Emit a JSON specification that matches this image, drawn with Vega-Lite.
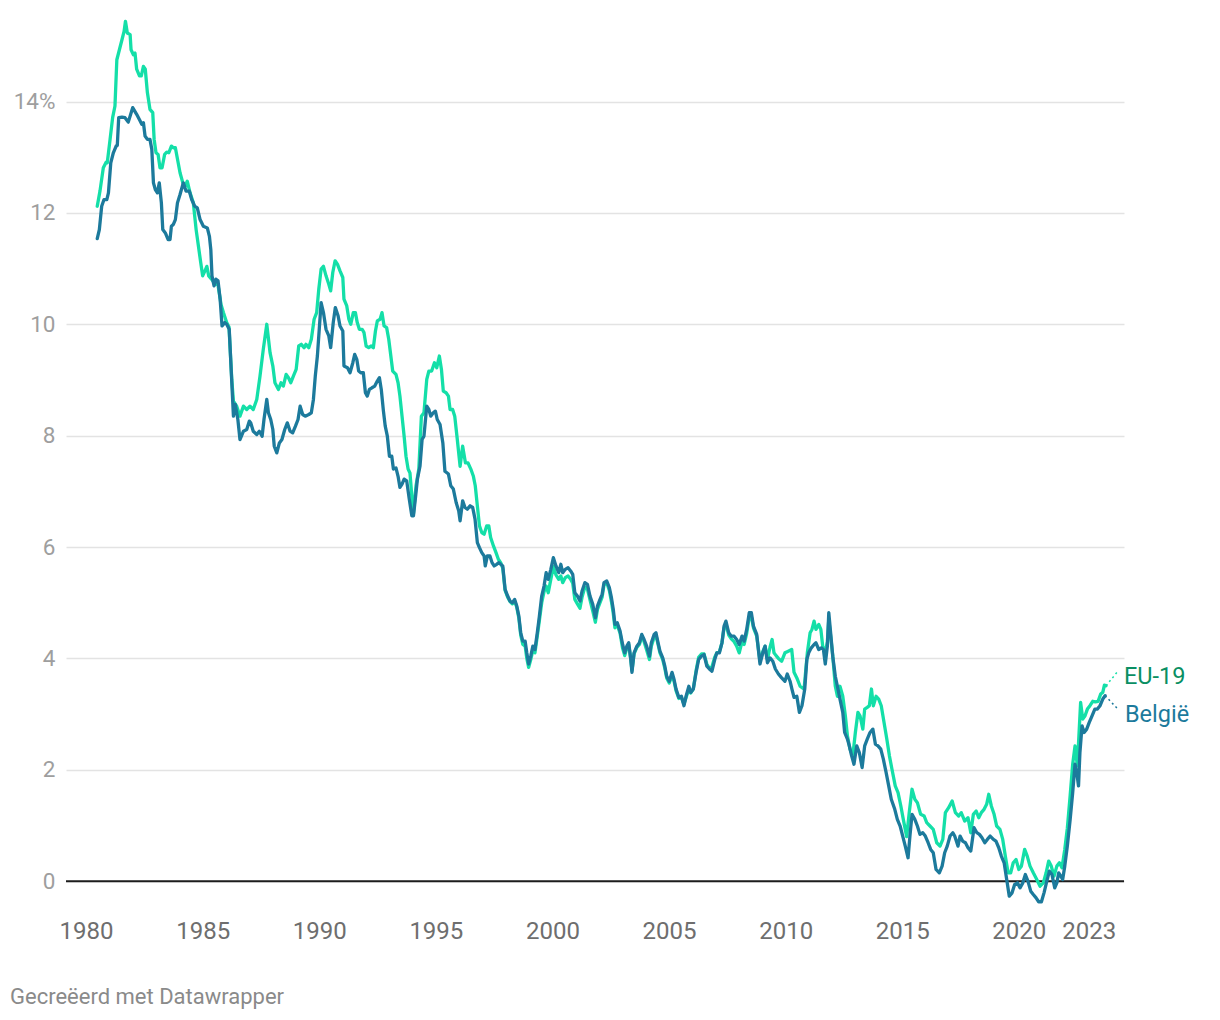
{
"$schema":"https://vega.github.io/schema/vega-lite/v6.json",
"width":1058,"height":891,
"autosize":{"type":"none"},
"padding":{"left":66,"top":18,"right":96,"bottom":111},
"background":"#ffffff",
"config":{"view":{"stroke":null},"font":"Roboto"},
"title":{"text":"Gecreëerd met Datawrapper","orient":"bottom","anchor":"start","frame":"group","dx":-56,"offset":44,"fontSize":22,"fontWeight":"normal","color":"#8a8a8a","font":"Roboto"},
"datasets":{
"eu":[{"t":1980.48,"v":12.12},{"t":1980.6,"v":12.4},{"t":1980.74,"v":12.81},{"t":1980.86,"v":12.91},{"t":1980.91,"v":12.9},{"t":1981.03,"v":13.32},{"t":1981.14,"v":13.71},{"t":1981.24,"v":13.92},{"t":1981.32,"v":14.75},{"t":1981.43,"v":14.93},{"t":1981.54,"v":15.11},{"t":1981.63,"v":15.26},{"t":1981.69,"v":15.44},{"t":1981.77,"v":15.23},{"t":1981.89,"v":15.2},{"t":1981.93,"v":14.93},{"t":1982.03,"v":14.84},{"t":1982.1,"v":14.87},{"t":1982.17,"v":14.58},{"t":1982.29,"v":14.46},{"t":1982.37,"v":14.46},{"t":1982.46,"v":14.63},{"t":1982.54,"v":14.58},{"t":1982.63,"v":14.16},{"t":1982.74,"v":13.86},{"t":1982.86,"v":13.8},{"t":1982.92,"v":13.32},{"t":1983.0,"v":13.08},{"t":1983.09,"v":13.05},{"t":1983.17,"v":12.81},{"t":1983.26,"v":12.81},{"t":1983.37,"v":13.05},{"t":1983.46,"v":13.09},{"t":1983.55,"v":13.08},{"t":1983.66,"v":13.2},{"t":1983.74,"v":13.17},{"t":1983.83,"v":13.17},{"t":1983.95,"v":12.9},{"t":1984.03,"v":12.72},{"t":1984.15,"v":12.54},{"t":1984.25,"v":12.48},{"t":1984.34,"v":12.57},{"t":1984.46,"v":12.36},{"t":1984.6,"v":12.18},{"t":1984.72,"v":11.7},{"t":1984.82,"v":11.4},{"t":1984.92,"v":11.1},{"t":1985.0,"v":10.87},{"t":1985.09,"v":10.95},{"t":1985.18,"v":11.04},{"t":1985.26,"v":10.87},{"t":1985.4,"v":10.8},{"t":1985.49,"v":10.75},{"t":1985.66,"v":10.7},{"t":1985.79,"v":10.35},{"t":1985.89,"v":10.21},{"t":1986.03,"v":10.03},{"t":1986.13,"v":9.95},{"t":1986.25,"v":9.0},{"t":1986.32,"v":8.62},{"t":1986.46,"v":8.53},{"t":1986.6,"v":8.35},{"t":1986.75,"v":8.53},{"t":1986.89,"v":8.47},{"t":1987.03,"v":8.53},{"t":1987.17,"v":8.47},{"t":1987.32,"v":8.65},{"t":1987.46,"v":9.07},{"t":1987.6,"v":9.55},{"t":1987.75,"v":10.0},{"t":1987.89,"v":9.49},{"t":1988.01,"v":9.25},{"t":1988.1,"v":8.95},{"t":1988.25,"v":8.83},{"t":1988.36,"v":8.95},{"t":1988.46,"v":8.89},{"t":1988.58,"v":9.1},{"t":1988.68,"v":9.04},{"t":1988.78,"v":8.95},{"t":1988.89,"v":9.07},{"t":1989.01,"v":9.19},{"t":1989.12,"v":9.61},{"t":1989.23,"v":9.64},{"t":1989.35,"v":9.58},{"t":1989.43,"v":9.64},{"t":1989.55,"v":9.58},{"t":1989.66,"v":9.73},{"t":1989.78,"v":10.09},{"t":1989.89,"v":10.21},{"t":1989.98,"v":10.63},{"t":1990.08,"v":10.99},{"t":1990.18,"v":11.04},{"t":1990.29,"v":10.87},{"t":1990.41,"v":10.72},{"t":1990.49,"v":10.6},{"t":1990.58,"v":10.93},{"t":1990.68,"v":11.14},{"t":1990.78,"v":11.08},{"t":1990.89,"v":10.96},{"t":1991.01,"v":10.84},{"t":1991.06,"v":10.45},{"t":1991.18,"v":10.33},{"t":1991.27,"v":10.09},{"t":1991.35,"v":10.0},{"t":1991.46,"v":10.21},{"t":1991.55,"v":10.21},{"t":1991.63,"v":10.03},{"t":1991.72,"v":9.91},{"t":1991.84,"v":9.91},{"t":1991.92,"v":9.85},{"t":1992.01,"v":9.61},{"t":1992.12,"v":9.58},{"t":1992.23,"v":9.61},{"t":1992.32,"v":9.58},{"t":1992.41,"v":9.88},{"t":1992.49,"v":10.06},{"t":1992.61,"v":10.09},{"t":1992.69,"v":10.21},{"t":1992.78,"v":9.97},{"t":1992.89,"v":9.94},{"t":1992.98,"v":9.73},{"t":1993.07,"v":9.43},{"t":1993.15,"v":9.16},{"t":1993.29,"v":9.1},{"t":1993.38,"v":8.95},{"t":1993.46,"v":8.71},{"t":1993.55,"v":8.35},{"t":1993.64,"v":7.99},{"t":1993.72,"v":7.63},{"t":1993.81,"v":7.4},{"t":1993.89,"v":7.33},{"t":1993.98,"v":6.86},{"t":1994.04,"v":6.6},{"t":1994.15,"v":7.1},{"t":1994.27,"v":7.4},{"t":1994.38,"v":8.35},{"t":1994.49,"v":8.41},{"t":1994.61,"v":9.01},{"t":1994.7,"v":9.16},{"t":1994.82,"v":9.16},{"t":1994.94,"v":9.31},{"t":1995.04,"v":9.22},{"t":1995.15,"v":9.43},{"t":1995.24,"v":9.19},{"t":1995.32,"v":8.8},{"t":1995.44,"v":8.77},{"t":1995.54,"v":8.71},{"t":1995.61,"v":8.47},{"t":1995.72,"v":8.47},{"t":1995.81,"v":8.35},{"t":1995.92,"v":7.93},{"t":1996.04,"v":7.45},{"t":1996.15,"v":7.81},{"t":1996.27,"v":7.51},{"t":1996.38,"v":7.51},{"t":1996.5,"v":7.4},{"t":1996.61,"v":7.27},{"t":1996.69,"v":7.1},{"t":1996.78,"v":6.74},{"t":1996.87,"v":6.38},{"t":1996.97,"v":6.26},{"t":1997.07,"v":6.23},{"t":1997.18,"v":6.38},{"t":1997.27,"v":6.38},{"t":1997.35,"v":6.17},{"t":1997.47,"v":6.02},{"t":1997.58,"v":5.9},{"t":1997.68,"v":5.78},{"t":1997.78,"v":5.72},{"t":1997.87,"v":5.62},{"t":1997.97,"v":5.22},{"t":1998.08,"v":5.1},{"t":1998.18,"v":5.02},{"t":1998.28,"v":4.98},{"t":1998.38,"v":5.03},{"t":1998.47,"v":4.92},{"t":1998.56,"v":4.72},{"t":1998.64,"v":4.42},{"t":1998.73,"v":4.25},{"t":1998.83,"v":4.22},{"t":1998.9,"v":4.0},{"t":1998.98,"v":3.84},{"t":1999.07,"v":3.98},{"t":1999.16,"v":4.15},{"t":1999.25,"v":4.1},{"t":1999.35,"v":4.4},{"t":1999.44,"v":4.68},{"t":1999.54,"v":5.0},{"t":1999.64,"v":5.2},{"t":1999.73,"v":5.3},{"t":1999.82,"v":5.18},{"t":1999.93,"v":5.42},{"t":2000.04,"v":5.65},{"t":2000.15,"v":5.5},{"t":2000.27,"v":5.42},{"t":2000.36,"v":5.48},{"t":2000.44,"v":5.36},{"t":2000.55,"v":5.45},{"t":2000.67,"v":5.48},{"t":2000.78,"v":5.42},{"t":2000.87,"v":5.35},{"t":2000.96,"v":5.06},{"t":2001.07,"v":4.98},{"t":2001.18,"v":4.9},{"t":2001.27,"v":5.1},{"t":2001.39,"v":5.28},{"t":2001.5,"v":5.25},{"t":2001.61,"v":5.05},{"t":2001.73,"v":4.85},{"t":2001.84,"v":4.65},{"t":2001.93,"v":4.88},{"t":2002.04,"v":5.0},{"t":2002.13,"v":5.1},{"t":2002.21,"v":5.32},{"t":2002.33,"v":5.36},{"t":2002.44,"v":5.22},{"t":2002.53,"v":5.02},{"t":2002.61,"v":4.8},{"t":2002.68,"v":4.55},{"t":2002.78,"v":4.6},{"t":2002.9,"v":4.45},{"t":2003.01,"v":4.18},{"t":2003.1,"v":4.05},{"t":2003.19,"v":4.18},{"t":2003.27,"v":4.25},{"t":2003.36,"v":3.98},{"t":2003.41,"v":3.78},{"t":2003.5,"v":4.08},{"t":2003.62,"v":4.2},{"t":2003.73,"v":4.25},{"t":2003.83,"v":4.4},{"t":2003.93,"v":4.3},{"t":2004.04,"v":4.15},{"t":2004.16,"v":3.98},{"t":2004.24,"v":4.22},{"t":2004.36,"v":4.38},{"t":2004.44,"v":4.42},{"t":2004.53,"v":4.25},{"t":2004.61,"v":4.1},{"t":2004.73,"v":3.98},{"t":2004.82,"v":3.82},{"t":2004.9,"v":3.65},{"t":2005.01,"v":3.56},{"t":2005.13,"v":3.7},{"t":2005.21,"v":3.6},{"t":2005.3,"v":3.42},{"t":2005.42,"v":3.28},{"t":2005.53,"v":3.3},{"t":2005.64,"v":3.18},{"t":2005.73,"v":3.3},{"t":2005.85,"v":3.45},{"t":2005.93,"v":3.38},{"t":2006.04,"v":3.45},{"t":2006.16,"v":3.78},{"t":2006.27,"v":4.02},{"t":2006.39,"v":4.08},{"t":2006.5,"v":4.08},{"t":2006.62,"v":3.9},{"t":2006.73,"v":3.82},{"t":2006.84,"v":3.85},{"t":2006.96,"v":4.02},{"t":2007.05,"v":4.1},{"t":2007.16,"v":4.12},{"t":2007.27,"v":4.28},{"t":2007.36,"v":4.55},{"t":2007.44,"v":4.62},{"t":2007.56,"v":4.42},{"t":2007.67,"v":4.35},{"t":2007.79,"v":4.3},{"t":2007.9,"v":4.22},{"t":2008.01,"v":4.1},{"t":2008.13,"v":4.3},{"t":2008.22,"v":4.25},{"t":2008.33,"v":4.45},{"t":2008.44,"v":4.75},{"t":2008.53,"v":4.75},{"t":2008.62,"v":4.55},{"t":2008.76,"v":4.4},{"t":2008.9,"v":3.95},{"t":2009.02,"v":4.12},{"t":2009.12,"v":4.22},{"t":2009.22,"v":3.98},{"t":2009.33,"v":4.2},{"t":2009.42,"v":4.34},{"t":2009.5,"v":4.1},{"t":2009.59,"v":4.05},{"t":2009.69,"v":4.0},{"t":2009.83,"v":3.95},{"t":2009.97,"v":4.1},{"t":2010.07,"v":4.12},{"t":2010.26,"v":4.16},{"t":2010.36,"v":3.75},{"t":2010.48,"v":3.65},{"t":2010.62,"v":3.5},{"t":2010.79,"v":3.45},{"t":2010.93,"v":4.1},{"t":2011.05,"v":4.46},{"t":2011.13,"v":4.52},{"t":2011.22,"v":4.67},{"t":2011.3,"v":4.52},{"t":2011.42,"v":4.61},{"t":2011.51,"v":4.52},{"t":2011.59,"v":4.22},{"t":2011.7,"v":4.1},{"t":2011.79,"v":4.3},{"t":2011.85,"v":4.7},{"t":2011.93,"v":4.4},{"t":2012.02,"v":4.05},{"t":2012.13,"v":3.5},{"t":2012.22,"v":3.32},{"t":2012.33,"v":3.5},{"t":2012.45,"v":3.32},{"t":2012.56,"v":2.97},{"t":2012.65,"v":2.61},{"t":2012.76,"v":2.37},{"t":2012.88,"v":2.25},{"t":2012.99,"v":2.67},{"t":2013.1,"v":3.03},{"t":2013.19,"v":2.97},{"t":2013.31,"v":2.73},{"t":2013.39,"v":3.09},{"t":2013.5,"v":3.12},{"t":2013.59,"v":3.15},{"t":2013.68,"v":3.45},{"t":2013.76,"v":3.15},{"t":2013.88,"v":3.32},{"t":2013.99,"v":3.27},{"t":2014.1,"v":3.15},{"t":2014.22,"v":2.85},{"t":2014.34,"v":2.55},{"t":2014.45,"v":2.25},{"t":2014.56,"v":2.01},{"t":2014.7,"v":1.71},{"t":2014.82,"v":1.59},{"t":2014.94,"v":1.35},{"t":2015.05,"v":1.1},{"t":2015.19,"v":0.8},{"t":2015.3,"v":1.23},{"t":2015.42,"v":1.65},{"t":2015.54,"v":1.47},{"t":2015.65,"v":1.41},{"t":2015.79,"v":1.2},{"t":2015.94,"v":1.17},{"t":2016.05,"v":1.05},{"t":2016.19,"v":0.99},{"t":2016.33,"v":0.93},{"t":2016.48,"v":0.69},{"t":2016.62,"v":0.63},{"t":2016.74,"v":0.75},{"t":2016.85,"v":1.23},{"t":2016.99,"v":1.32},{"t":2017.14,"v":1.44},{"t":2017.28,"v":1.23},{"t":2017.42,"v":1.17},{"t":2017.53,"v":1.23},{"t":2017.68,"v":1.08},{"t":2017.82,"v":1.14},{"t":2017.94,"v":0.87},{"t":2018.05,"v":1.2},{"t":2018.17,"v":1.26},{"t":2018.28,"v":1.14},{"t":2018.39,"v":1.23},{"t":2018.51,"v":1.29},{"t":2018.62,"v":1.38},{"t":2018.71,"v":1.56},{"t":2018.82,"v":1.35},{"t":2018.94,"v":1.2},{"t":2019.05,"v":0.99},{"t":2019.19,"v":0.93},{"t":2019.31,"v":0.75},{"t":2019.42,"v":0.45},{"t":2019.54,"v":0.15},{"t":2019.65,"v":0.15},{"t":2019.76,"v":0.33},{"t":2019.88,"v":0.39},{"t":2020.0,"v":0.21},{"t":2020.11,"v":0.27},{"t":2020.25,"v":0.57},{"t":2020.36,"v":0.45},{"t":2020.48,"v":0.27},{"t":2020.62,"v":0.15},{"t":2020.77,"v":0.03},{"t":2020.91,"v":-0.09},{"t":2021.05,"v":-0.03},{"t":2021.17,"v":0.15},{"t":2021.28,"v":0.36},{"t":2021.39,"v":0.27},{"t":2021.51,"v":0.09},{"t":2021.63,"v":0.27},{"t":2021.74,"v":0.33},{"t":2021.85,"v":0.24},{"t":2021.97,"v":0.57},{"t":2022.08,"v":0.95},{"t":2022.2,"v":1.53},{"t":2022.31,"v":2.1},{"t":2022.41,"v":2.43},{"t":2022.51,"v":2.07},{"t":2022.65,"v":3.21},{"t":2022.74,"v":2.91},{"t":2022.84,"v":2.97},{"t":2022.94,"v":3.09},{"t":2023.05,"v":3.15},{"t":2023.17,"v":3.23},{"t":2023.28,"v":3.22},{"t":2023.4,"v":3.23},{"t":2023.51,"v":3.36},{"t":2023.6,"v":3.39},{"t":2023.67,"v":3.52},{"t":2023.74,"v":3.51}],
"be":[{"t":1980.48,"v":11.54},{"t":1980.57,"v":11.7},{"t":1980.67,"v":12.12},{"t":1980.77,"v":12.24},{"t":1980.89,"v":12.24},{"t":1980.96,"v":12.36},{"t":1981.06,"v":12.9},{"t":1981.17,"v":13.08},{"t":1981.29,"v":13.2},{"t":1981.34,"v":13.21},{"t":1981.4,"v":13.71},{"t":1981.54,"v":13.72},{"t":1981.67,"v":13.71},{"t":1981.81,"v":13.63},{"t":1982.0,"v":13.89},{"t":1982.17,"v":13.77},{"t":1982.32,"v":13.65},{"t":1982.39,"v":13.59},{"t":1982.46,"v":13.62},{"t":1982.53,"v":13.38},{"t":1982.63,"v":13.32},{"t":1982.74,"v":13.32},{"t":1982.82,"v":13.14},{"t":1982.89,"v":12.54},{"t":1982.97,"v":12.42},{"t":1983.06,"v":12.36},{"t":1983.14,"v":12.54},{"t":1983.23,"v":12.18},{"t":1983.29,"v":11.7},{"t":1983.4,"v":11.64},{"t":1983.52,"v":11.52},{"t":1983.6,"v":11.52},{"t":1983.66,"v":11.76},{"t":1983.74,"v":11.79},{"t":1983.83,"v":11.88},{"t":1983.92,"v":12.18},{"t":1984.03,"v":12.33},{"t":1984.17,"v":12.54},{"t":1984.29,"v":12.39},{"t":1984.43,"v":12.39},{"t":1984.53,"v":12.24},{"t":1984.66,"v":12.12},{"t":1984.77,"v":12.09},{"t":1984.89,"v":11.88},{"t":1985.03,"v":11.76},{"t":1985.2,"v":11.73},{"t":1985.29,"v":11.58},{"t":1985.35,"v":11.34},{"t":1985.4,"v":10.87},{"t":1985.49,"v":10.69},{"t":1985.57,"v":10.81},{"t":1985.66,"v":10.78},{"t":1985.75,"v":10.45},{"t":1985.83,"v":9.97},{"t":1985.95,"v":10.03},{"t":1986.03,"v":10.0},{"t":1986.14,"v":9.91},{"t":1986.25,"v":8.95},{"t":1986.32,"v":8.35},{"t":1986.4,"v":8.56},{"t":1986.51,"v":8.29},{"t":1986.6,"v":7.93},{"t":1986.75,"v":8.08},{"t":1986.89,"v":8.11},{"t":1987.0,"v":8.26},{"t":1987.06,"v":8.23},{"t":1987.17,"v":8.08},{"t":1987.32,"v":8.02},{"t":1987.43,"v":8.08},{"t":1987.55,"v":7.99},{"t":1987.63,"v":8.29},{"t":1987.75,"v":8.65},{"t":1987.82,"v":8.41},{"t":1987.92,"v":8.29},{"t":1988.01,"v":8.11},{"t":1988.07,"v":7.81},{"t":1988.18,"v":7.69},{"t":1988.29,"v":7.87},{"t":1988.4,"v":7.93},{"t":1988.52,"v":8.11},{"t":1988.63,"v":8.23},{"t":1988.75,"v":8.08},{"t":1988.86,"v":8.05},{"t":1988.98,"v":8.17},{"t":1989.09,"v":8.29},{"t":1989.18,"v":8.53},{"t":1989.29,"v":8.38},{"t":1989.4,"v":8.35},{"t":1989.55,"v":8.38},{"t":1989.66,"v":8.41},{"t":1989.75,"v":8.65},{"t":1989.83,"v":9.07},{"t":1989.92,"v":9.43},{"t":1990.0,"v":9.91},{"t":1990.08,"v":10.39},{"t":1990.18,"v":10.21},{"t":1990.29,"v":9.91},{"t":1990.41,"v":9.79},{"t":1990.49,"v":9.58},{"t":1990.6,"v":10.03},{"t":1990.69,"v":10.3},{"t":1990.81,"v":10.15},{"t":1990.89,"v":9.97},{"t":1991.01,"v":9.88},{"t":1991.06,"v":9.25},{"t":1991.21,"v":9.22},{"t":1991.32,"v":9.13},{"t":1991.44,"v":9.31},{"t":1991.52,"v":9.46},{"t":1991.61,"v":9.37},{"t":1991.69,"v":9.16},{"t":1991.78,"v":9.13},{"t":1991.89,"v":9.13},{"t":1991.98,"v":8.77},{"t":1992.06,"v":8.71},{"t":1992.15,"v":8.83},{"t":1992.26,"v":8.86},{"t":1992.38,"v":8.89},{"t":1992.49,"v":8.98},{"t":1992.58,"v":9.04},{"t":1992.66,"v":8.83},{"t":1992.75,"v":8.45},{"t":1992.83,"v":8.17},{"t":1992.92,"v":7.99},{"t":1993.01,"v":7.63},{"t":1993.11,"v":7.63},{"t":1993.18,"v":7.4},{"t":1993.29,"v":7.42},{"t":1993.38,"v":7.27},{"t":1993.46,"v":7.07},{"t":1993.55,"v":7.13},{"t":1993.64,"v":7.22},{"t":1993.75,"v":7.19},{"t":1993.86,"v":6.86},{"t":1993.97,"v":6.56},{"t":1994.04,"v":6.56},{"t":1994.12,"v":6.86},{"t":1994.21,"v":7.22},{"t":1994.32,"v":7.45},{"t":1994.41,"v":7.93},{"t":1994.49,"v":7.99},{"t":1994.61,"v":8.53},{"t":1994.7,"v":8.47},{"t":1994.78,"v":8.35},{"t":1994.89,"v":8.41},{"t":1994.98,"v":8.44},{"t":1995.06,"v":8.29},{"t":1995.18,"v":8.2},{"t":1995.3,"v":7.87},{"t":1995.39,"v":7.36},{"t":1995.54,"v":7.31},{"t":1995.64,"v":7.1},{"t":1995.75,"v":7.04},{"t":1995.87,"v":6.8},{"t":1995.98,"v":6.65},{"t":1996.04,"v":6.47},{"t":1996.15,"v":6.83},{"t":1996.25,"v":6.71},{"t":1996.35,"v":6.68},{"t":1996.47,"v":6.74},{"t":1996.58,"v":6.71},{"t":1996.68,"v":6.5},{"t":1996.78,"v":6.08},{"t":1996.87,"v":5.99},{"t":1996.97,"v":5.9},{"t":1997.07,"v":5.84},{"t":1997.12,"v":5.66},{"t":1997.21,"v":5.84},{"t":1997.32,"v":5.84},{"t":1997.41,"v":5.72},{"t":1997.5,"v":5.66},{"t":1997.61,"v":5.69},{"t":1997.7,"v":5.72},{"t":1997.78,"v":5.69},{"t":1997.87,"v":5.66},{"t":1997.97,"v":5.24},{"t":1998.08,"v":5.12},{"t":1998.18,"v":5.03},{"t":1998.28,"v":5.0},{"t":1998.38,"v":5.06},{"t":1998.47,"v":4.94},{"t":1998.56,"v":4.76},{"t":1998.64,"v":4.46},{"t":1998.73,"v":4.31},{"t":1998.83,"v":4.31},{"t":1998.9,"v":4.1},{"t":1998.98,"v":3.9},{"t":1999.07,"v":4.04},{"t":1999.16,"v":4.22},{"t":1999.25,"v":4.16},{"t":1999.35,"v":4.46},{"t":1999.44,"v":4.76},{"t":1999.54,"v":5.12},{"t":1999.64,"v":5.3},{"t":1999.73,"v":5.54},{"t":1999.82,"v":5.42},{"t":1999.93,"v":5.6},{"t":2000.04,"v":5.81},{"t":2000.15,"v":5.66},{"t":2000.27,"v":5.54},{"t":2000.36,"v":5.69},{"t":2000.44,"v":5.54},{"t":2000.55,"v":5.6},{"t":2000.67,"v":5.63},{"t":2000.78,"v":5.57},{"t":2000.87,"v":5.51},{"t":2000.96,"v":5.18},{"t":2001.07,"v":5.12},{"t":2001.18,"v":5.03},{"t":2001.27,"v":5.21},{"t":2001.39,"v":5.36},{"t":2001.5,"v":5.33},{"t":2001.61,"v":5.12},{"t":2001.73,"v":4.97},{"t":2001.84,"v":4.73},{"t":2001.93,"v":4.94},{"t":2002.04,"v":5.06},{"t":2002.13,"v":5.15},{"t":2002.21,"v":5.36},{"t":2002.33,"v":5.39},{"t":2002.44,"v":5.27},{"t":2002.53,"v":5.09},{"t":2002.61,"v":4.88},{"t":2002.68,"v":4.61},{"t":2002.78,"v":4.64},{"t":2002.9,"v":4.49},{"t":2003.01,"v":4.25},{"t":2003.1,"v":4.1},{"t":2003.19,"v":4.22},{"t":2003.27,"v":4.28},{"t":2003.36,"v":3.98},{"t":2003.41,"v":3.75},{"t":2003.5,"v":4.1},{"t":2003.62,"v":4.22},{"t":2003.73,"v":4.28},{"t":2003.83,"v":4.43},{"t":2003.93,"v":4.34},{"t":2004.04,"v":4.22},{"t":2004.16,"v":4.04},{"t":2004.24,"v":4.28},{"t":2004.36,"v":4.43},{"t":2004.44,"v":4.46},{"t":2004.53,"v":4.28},{"t":2004.61,"v":4.13},{"t":2004.73,"v":4.01},{"t":2004.82,"v":3.86},{"t":2004.9,"v":3.68},{"t":2005.01,"v":3.59},{"t":2005.13,"v":3.75},{"t":2005.21,"v":3.63},{"t":2005.3,"v":3.45},{"t":2005.42,"v":3.3},{"t":2005.53,"v":3.32},{"t":2005.64,"v":3.15},{"t":2005.73,"v":3.32},{"t":2005.85,"v":3.5},{"t":2005.93,"v":3.39},{"t":2006.04,"v":3.45},{"t":2006.16,"v":3.75},{"t":2006.27,"v":3.98},{"t":2006.39,"v":4.04},{"t":2006.5,"v":4.07},{"t":2006.62,"v":3.86},{"t":2006.73,"v":3.81},{"t":2006.84,"v":3.77},{"t":2006.96,"v":3.98},{"t":2007.05,"v":4.1},{"t":2007.16,"v":4.1},{"t":2007.27,"v":4.28},{"t":2007.36,"v":4.58},{"t":2007.44,"v":4.67},{"t":2007.56,"v":4.46},{"t":2007.67,"v":4.4},{"t":2007.79,"v":4.4},{"t":2007.9,"v":4.34},{"t":2008.01,"v":4.25},{"t":2008.13,"v":4.4},{"t":2008.22,"v":4.31},{"t":2008.33,"v":4.52},{"t":2008.44,"v":4.82},{"t":2008.53,"v":4.82},{"t":2008.62,"v":4.58},{"t":2008.76,"v":4.43},{"t":2008.9,"v":3.9},{"t":2009.02,"v":4.1},{"t":2009.12,"v":4.22},{"t":2009.22,"v":3.92},{"t":2009.33,"v":4.01},{"t":2009.45,"v":3.95},{"t":2009.56,"v":3.81},{"t":2009.69,"v":3.72},{"t":2009.83,"v":3.65},{"t":2009.97,"v":3.59},{"t":2010.07,"v":3.72},{"t":2010.19,"v":3.59},{"t":2010.27,"v":3.45},{"t":2010.36,"v":3.3},{"t":2010.48,"v":3.32},{"t":2010.59,"v":3.03},{"t":2010.7,"v":3.15},{"t":2010.82,"v":3.45},{"t":2010.91,"v":3.98},{"t":2010.99,"v":4.1},{"t":2011.1,"v":4.19},{"t":2011.22,"v":4.25},{"t":2011.3,"v":4.28},{"t":2011.42,"v":4.16},{"t":2011.53,"v":4.19},{"t":2011.62,"v":4.16},{"t":2011.7,"v":3.9},{"t":2011.79,"v":4.22},{"t":2011.85,"v":4.82},{"t":2011.93,"v":4.46},{"t":2012.02,"v":4.04},{"t":2012.13,"v":3.68},{"t":2012.22,"v":3.5},{"t":2012.33,"v":3.27},{"t":2012.45,"v":3.03},{"t":2012.53,"v":2.67},{"t":2012.65,"v":2.55},{"t":2012.73,"v":2.43},{"t":2012.83,"v":2.25},{"t":2012.93,"v":2.1},{"t":2013.05,"v":2.43},{"t":2013.16,"v":2.31},{"t":2013.28,"v":2.04},{"t":2013.39,"v":2.43},{"t":2013.5,"v":2.55},{"t":2013.62,"v":2.67},{"t":2013.74,"v":2.73},{"t":2013.85,"v":2.46},{"t":2013.96,"v":2.43},{"t":2014.08,"v":2.37},{"t":2014.19,"v":2.19},{"t":2014.31,"v":1.95},{"t":2014.42,"v":1.71},{"t":2014.53,"v":1.47},{"t":2014.68,"v":1.29},{"t":2014.79,"v":1.11},{"t":2014.91,"v":0.99},{"t":2015.02,"v":0.81},{"t":2015.13,"v":0.63},{"t":2015.25,"v":0.42},{"t":2015.33,"v":0.81},{"t":2015.42,"v":1.2},{"t":2015.54,"v":1.11},{"t":2015.65,"v":0.99},{"t":2015.76,"v":0.84},{"t":2015.88,"v":0.87},{"t":2015.99,"v":0.81},{"t":2016.11,"v":0.69},{"t":2016.22,"v":0.57},{"t":2016.33,"v":0.51},{"t":2016.45,"v":0.21},{"t":2016.59,"v":0.15},{"t":2016.71,"v":0.27},{"t":2016.82,"v":0.51},{"t":2016.93,"v":0.63},{"t":2017.05,"v":0.81},{"t":2017.17,"v":0.87},{"t":2017.25,"v":0.81},{"t":2017.39,"v":0.63},{"t":2017.48,"v":0.81},{"t":2017.59,"v":0.72},{"t":2017.71,"v":0.69},{"t":2017.82,"v":0.6},{"t":2017.94,"v":0.54},{"t":2018.08,"v":0.96},{"t":2018.2,"v":0.87},{"t":2018.31,"v":0.84},{"t":2018.42,"v":0.78},{"t":2018.54,"v":0.69},{"t":2018.65,"v":0.75},{"t":2018.77,"v":0.81},{"t":2018.91,"v":0.75},{"t":2019.02,"v":0.72},{"t":2019.14,"v":0.6},{"t":2019.25,"v":0.45},{"t":2019.37,"v":0.33},{"t":2019.48,"v":0.03},{"t":2019.59,"v":-0.27},{"t":2019.71,"v":-0.21},{"t":2019.82,"v":-0.06},{"t":2019.94,"v":-0.03},{"t":2020.05,"v":-0.12},{"t":2020.17,"v":-0.03},{"t":2020.28,"v":0.12},{"t":2020.39,"v":0.0},{"t":2020.51,"v":-0.18},{"t":2020.62,"v":-0.24},{"t":2020.74,"v":-0.3},{"t":2020.85,"v":-0.37},{"t":2020.97,"v":-0.37},{"t":2021.08,"v":-0.21},{"t":2021.2,"v":0.0},{"t":2021.31,"v":0.18},{"t":2021.42,"v":0.12},{"t":2021.54,"v":-0.12},{"t":2021.63,"v":-0.03},{"t":2021.71,"v":0.15},{"t":2021.8,"v":0.09},{"t":2021.88,"v":0.03},{"t":2021.97,"v":0.27},{"t":2022.08,"v":0.63},{"t":2022.2,"v":1.1},{"t":2022.31,"v":1.59},{"t":2022.41,"v":2.1},{"t":2022.5,"v":1.9},{"t":2022.56,"v":1.71},{"t":2022.62,"v":2.31},{"t":2022.71,"v":2.79},{"t":2022.8,"v":2.67},{"t":2022.91,"v":2.73},{"t":2023.02,"v":2.85},{"t":2023.14,"v":2.97},{"t":2023.26,"v":3.09},{"t":2023.37,"v":3.09},{"t":2023.48,"v":3.15},{"t":2023.6,"v":3.27},{"t":2023.7,"v":3.33}],
"lab":[{"s":"EU-19","t":2023.74,"v":3.51,"t2":2024.21,"v2":3.75,"lv":3.66},{"s":"België","t":2023.7,"v":3.33,"t2":2024.25,"v2":3.09,"lv":2.98}]
},
"layer":[
{"data":{"values":[{}]},"mark":{"type":"rule","color":"#1d1d1d","strokeWidth":2},"encoding":{"y":{"datum":0,"type":"quantitative","scale":{"domain":[-0.5,15.5],"nice":false,"zero":false}}}},
{"data":{"name":"eu"},"mark":{"type":"line","color":"#14dfa8","strokeWidth":3.3,"strokeJoin":"round","strokeCap":"round"},
 "encoding":{
  "x":{"field":"t","type":"quantitative","scale":{"domain":[1979.14,2024.51],"nice":false,"zero":false},
   "axis":{"title":null,"values":[1980,1985,1990,1995,2000,2005,2010,2015,2020,2023],"format":"d","grid":false,"domain":false,"ticks":false,"labelFontSize":24,"labelColor":"#6e6e6e","labelPadding":10,"labelFlush":false,"labelOverlap":false,"labelFont":"Roboto"}},
  "y":{"field":"v","type":"quantitative","scale":{"domain":[-0.5,15.5],"nice":false,"zero":false},
   "axis":{"title":null,"values":[0,2,4,6,8,10,12,14],"format":"d","labelExpr":"datum.value == 14 ? '14%' : datum.label","grid":true,"gridColor":"#e3e3e3","gridWidth":1.5,"domain":false,"ticks":false,"labelFontSize":22.5,"labelColor":"#9e9e9e","labelPadding":11,"labelFont":"Roboto"}}
 }},
{"data":{"name":"be"},"mark":{"type":"line","color":"#1c7a9c","strokeWidth":3.3,"strokeJoin":"round","strokeCap":"round"},
 "encoding":{"x":{"field":"t","type":"quantitative"},"y":{"field":"v","type":"quantitative"}}},
{"data":{"name":"lab"},"mark":{"type":"rule","strokeDash":[2,3],"strokeWidth":1.5},
 "encoding":{"x":{"field":"t","type":"quantitative"},"y":{"field":"v","type":"quantitative"},"x2":{"field":"t2"},"y2":{"field":"v2"},
  "stroke":{"field":"s","type":"nominal","scale":{"domain":["EU-19","België"],"range":["#14dfa8","#1c7a9c"]},"legend":null}}},
{"data":{"name":"lab"},"mark":{"type":"text","align":"left","baseline":"middle","dx":7,"fontSize":23.5,"font":"Roboto"},
 "encoding":{"x":{"field":"t2","type":"quantitative"},"y":{"field":"lv","type":"quantitative"},"text":{"field":"s"},
  "fill":{"field":"s","type":"nominal","scale":{"domain":["EU-19","België"],"range":["#0a8f63","#1c7a9c"]},"legend":null}}}
]
}
